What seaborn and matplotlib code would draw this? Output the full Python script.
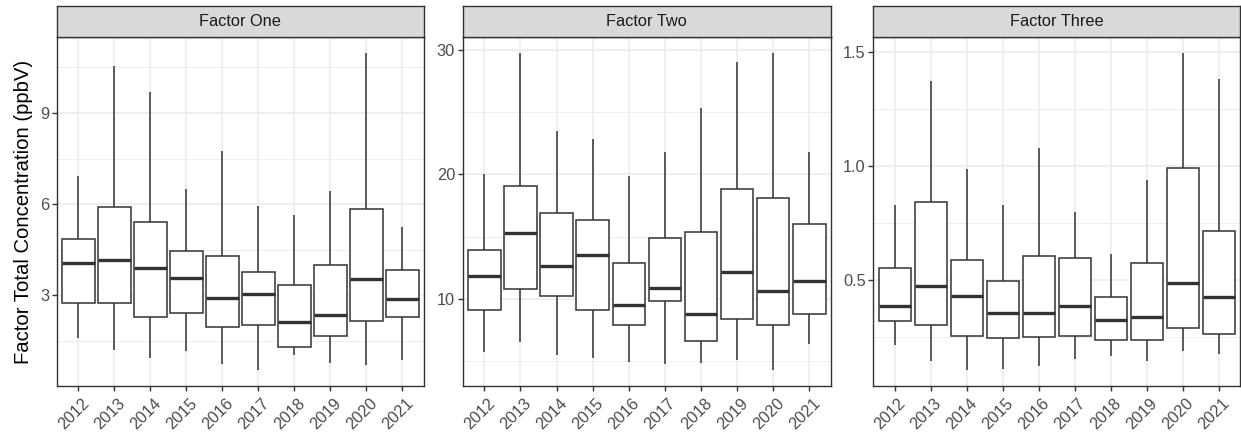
import numpy as np
import pandas as pd
import matplotlib
matplotlib.use("Agg")
import matplotlib.pyplot as plt
from matplotlib.ticker import MultipleLocator, FormatStrFormatter
from matplotlib.transforms import ScaledTranslation
import seaborn as sns

# Categories
years = [str(y) for y in range(2012, 2022)]
factors = ["Factor One", "Factor Two", "Factor Three"]

# Five-number summaries per year (whisker low, Q1, median, Q3, whisker high), ppbV
one_low = [1.60, 1.19, 0.94, 1.17, 0.73, 0.53, 1.03, 0.77, 0.70, 0.88]
one_q1 = [2.73, 2.73, 2.29, 2.42, 1.94, 2.01, 1.30, 1.65, 2.16, 2.29]
one_med = [4.07, 4.15, 3.90, 3.55, 2.92, 3.05, 2.12, 2.33, 3.52, 2.86]
one_q3 = [4.86, 5.91, 5.41, 4.46, 4.29, 3.77, 3.35, 3.99, 5.83, 3.82]
one_high = [6.91, 10.54, 9.68, 6.51, 7.74, 5.95, 5.63, 6.44, 10.97, 5.25]

two_low = [5.77, 6.52, 5.53, 5.29, 4.94, 4.83, 4.89, 5.15, 4.30, 6.36]
two_q1 = [9.12, 10.83, 10.24, 9.14, 7.91, 9.81, 6.65, 8.39, 7.94, 8.82]
two_med = [11.85, 15.27, 12.62, 13.51, 9.54, 10.88, 8.77, 12.20, 10.67, 11.45]
two_q3 = [13.96, 19.08, 16.93, 16.37, 12.89, 14.87, 15.35, 18.84, 18.09, 16.00]
two_high = [20.01, 29.73, 23.52, 22.82, 19.85, 21.78, 25.29, 28.98, 29.73, 21.83]

three_low = [0.219, 0.148, 0.107, 0.110, 0.127, 0.156, 0.170, 0.148, 0.190, 0.177]
three_q1 = [0.324, 0.306, 0.255, 0.248, 0.251, 0.257, 0.238, 0.238, 0.292, 0.264]
three_med = [0.389, 0.474, 0.433, 0.359, 0.359, 0.389, 0.328, 0.340, 0.488, 0.427]
three_q3 = [0.554, 0.842, 0.589, 0.497, 0.606, 0.598, 0.427, 0.577, 0.989, 0.715]
three_high = [0.828, 1.370, 0.988, 0.828, 1.079, 0.798, 0.616, 0.937, 1.493, 1.378]

summaries = {
    "Factor One": [one_low, one_q1, one_med, one_q3, one_high],
    "Factor Two": [two_low, two_q1, two_med, two_q3, two_high],
    "Factor Three": [three_low, three_q1, three_med, three_q3, three_high],
}

# Long table: the five summary values per box reproduce the quartiles exactly
rows = []
for fac in factors:
    cols = summaries[fac]
    for i, yr in enumerate(years):
        for col in cols:
            rows.append({"factor": fac, "year": yr, "value": col[i]})
df = pd.DataFrame(rows)

# Axis ticks per facet
major_step = {"Factor One": 3, "Factor Two": 10, "Factor Three": 0.5}
tick_fmt = {"Factor One": "%g", "Factor Two": "%g", "Factor Three": "%.1f"}

sns.set_style("white")
plt.rcParams["font.family"] = ["Liberation Sans", "DejaVu Sans"]

W, H = 1241, 433
fig = plt.figure(figsize=(W / 100, H / 100), dpi=100)

panel_left = [56.7, 462.7, 873.3]
panel_width = [367.3, 368.3, 367.0]
panel_top, panel_bottom, strip_top = 37.3, 386.0, 5.7

# small nudge for the rotated year labels (right, down)
label_shift = ScaledTranslation(3 / 100, -2 / 100, fig.dpi_scale_trans)

edge = "#333333"
for k, fac in enumerate(factors):
    l = panel_left[k] / W
    w = panel_width[k] / W
    b = 1 - panel_bottom / H
    h = (panel_bottom - panel_top) / H
    ax = fig.add_axes([l, b, w, h])
    sub = df[df["factor"] == fac]
    sns.boxplot(
        data=sub, x="year", y="value", order=years, ax=ax,
        whis=np.inf, width=0.9, color="white", linecolor=edge,
        linewidth=1.1, showcaps=False, showfliers=False,
        medianprops={"linewidth": 2.4, "color": edge},
    )
    lo, hi = sub["value"].min(), sub["value"].max()
    pad = 0.05 * (hi - lo)
    ax.set_ylim(lo - pad, hi + pad)
    ax.set_xlim(-0.6, len(years) - 0.4)

    step = major_step[fac]
    ax.yaxis.set_major_locator(MultipleLocator(step))
    ax.yaxis.set_minor_locator(MultipleLocator(step / 2))
    ax.yaxis.set_major_formatter(FormatStrFormatter(tick_fmt[fac]))

    ax.set_facecolor("white")
    ax.grid(True, which="major", color="#EBEBEB", linewidth=1.1)
    ax.grid(True, which="minor", axis="y", color="#EBEBEB", linewidth=0.6)
    ax.set_axisbelow(True)
    for s in ax.spines.values():
        s.set_color(edge)
        s.set_linewidth(1.0)
    ax.tick_params(axis="both", which="major", length=3.5, width=1.0, color=edge,
                   labelcolor="#4D4D4D", labelsize=11.8, pad=2, left=True, bottom=True)
    ax.tick_params(axis="y", which="minor", length=0)
    ax.set_xlabel("")
    ax.set_ylabel("")
    for lab in ax.get_xticklabels():
        lab.set_rotation(45)
        lab.set_ha("right")
        lab.set_va("top")
        lab.set_rotation_mode("anchor")
        lab.set_transform(lab.get_transform() + label_shift)

    # Facet strip
    sax = fig.add_axes([l, 1 - panel_top / H, w, (panel_top - strip_top) / H])
    sax.set_facecolor("#D9D9D9")
    sax.set_xticks([])
    sax.set_yticks([])
    for s in sax.spines.values():
        s.set_color(edge)
        s.set_linewidth(1.0)
    sax.text(0.5, 0.5, fac, ha="center", va="center", fontsize=11.8,
             color="#1A1A1A", transform=sax.transAxes)

fig.text(24 / W, 1 - 211.5 / H, "Factor Total Concentration (ppbV)",
         rotation=90, ha="center", va="center", fontsize=14.6, color="black")

fig.savefig("out.png", dpi=100)
